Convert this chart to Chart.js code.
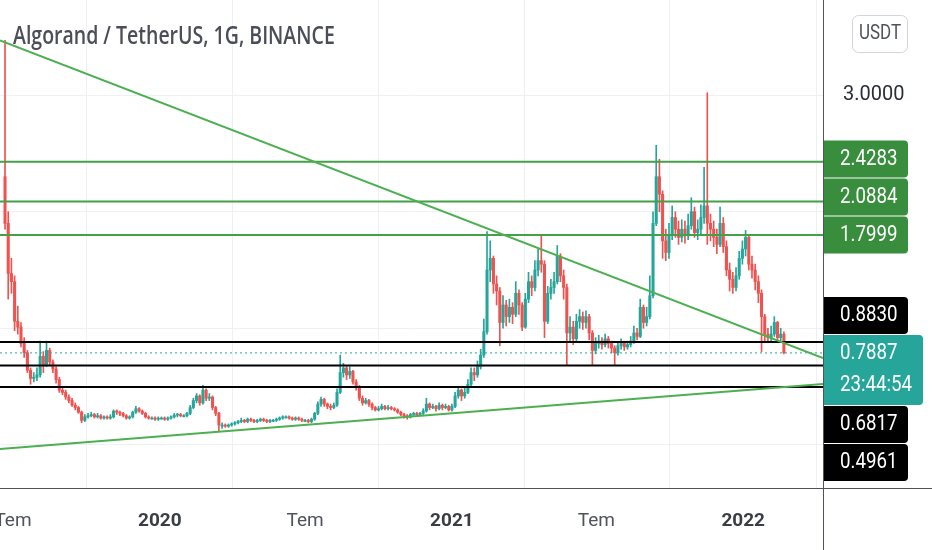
<!DOCTYPE html>
<html><head><meta charset="utf-8">
<script src="https://cdn.jsdelivr.net/npm/chart.js@4.4.1/dist/chart.umd.min.js"></script>
<style>html,body{margin:0;padding:0;background:#fff;overflow:hidden}canvas{display:block}</style>
</head><body>
<canvas id="c" width="932" height="550"></canvas>
<script>
// ---------------- data ----------------
const chartTitle = 'Algorand / TetherUS, 1G, BINANCE';
const currencyLabel = 'USDT';
const originDate = '2019-07-01';
const firstCandleDate = '2019-06-21';
const candleStepDays = 4;
const firstOpen = 2.30;
const closes = [
1.90,1.47,1.40,1.06,1.01,0.87,0.79,0.64,0.57,0.58,0.60,0.76,0.69,0.81,0.71,0.65,0.56,0.47,0.45,0.41,
0.38,0.34,0.32,0.28,0.21,0.24,0.25,0.26,0.24,0.25,0.23,0.24,0.23,0.24,0.29,0.28,0.27,0.25,0.23,0.24,
0.28,0.31,0.29,0.27,0.24,0.23,0.23,0.22,0.23,0.23,0.22,0.23,0.24,0.255,0.26,0.25,0.25,0.27,0.32,0.38,
0.42,0.36,0.47,0.40,0.41,0.32,0.27,0.17,0.17,0.16,0.17,0.18,0.19,0.20,0.21,0.20,0.22,0.21,0.20,0.21,
0.22,0.21,0.20,0.21,0.21,0.22,0.23,0.24,0.24,0.23,0.22,0.23,0.22,0.21,0.21,0.20,0.22,0.27,0.35,0.39,
0.35,0.33,0.32,0.34,0.45,0.62,0.66,0.60,0.63,0.54,0.50,0.40,0.36,0.38,0.35,0.32,0.30,0.31,0.33,0.31,
0.32,0.31,0.30,0.28,0.26,0.25,0.24,0.26,0.27,0.26,0.27,0.29,0.35,0.32,0.33,0.31,0.34,0.32,0.33,0.30,
0.33,0.42,0.47,0.42,0.45,0.52,0.62,0.60,0.67,0.77,0.97,1.50,1.60,1.38,1.32,1.05,1.20,1.10,1.18,1.12,
1.30,1.20,1.01,1.25,1.40,1.35,1.50,1.58,1.55,1.06,1.30,1.35,1.40,1.62,1.45,1.35,0.96,1.01,0.91,1.06,
1.10,1.05,1.10,0.96,0.81,0.87,0.89,0.86,0.91,0.87,0.83,0.79,0.85,0.87,0.84,0.86,0.89,0.96,0.93,1.18,
1.05,1.10,1.28,1.90,2.30,2.15,1.75,1.65,1.80,1.95,1.85,1.78,1.85,1.80,1.88,2.00,1.82,1.85,1.95,2.05,
1.90,1.85,1.78,1.72,1.90,1.70,1.50,1.42,1.35,1.45,1.60,1.68,1.78,1.55,1.50,1.40,1.30,1.10,0.95,0.92,
0.95,1.05,0.92,0.95,0.79];
const highs = [
3.47,2.00,1.60,1.45,1.19,1.05,0.92,0.81,0.66,0.62,0.66,0.89,0.80,0.89,0.83,0.73,0.67,0.58,0.50,0.47,
0.43,0.40,0.36,0.33,0.29,0.26,0.27,0.28,0.27,0.27,0.26,0.25,0.25,0.26,0.30,0.30,0.29,0.28,0.26,0.25,
0.29,0.33,0.32,0.30,0.28,0.25,0.24,0.24,0.24,0.24,0.24,0.24,0.25,0.27,0.27,0.27,0.26,0.28,0.34,0.40,
0.44,0.43,0.51,0.48,0.44,0.42,0.33,0.28,0.19,0.18,0.18,0.19,0.20,0.21,0.23,0.22,0.23,0.23,0.22,0.22,
0.23,0.23,0.22,0.22,0.22,0.23,0.24,0.25,0.25,0.25,0.24,0.24,0.24,0.23,0.22,0.22,0.23,0.28,0.37,0.41,
0.40,0.36,0.35,0.36,0.48,0.77,0.70,0.68,0.67,0.64,0.56,0.51,0.42,0.40,0.39,0.36,0.33,0.33,0.35,0.34,
0.34,0.33,0.32,0.31,0.29,0.27,0.26,0.27,0.28,0.28,0.28,0.31,0.40,0.36,0.35,0.34,0.36,0.35,0.35,0.34,
0.35,0.45,0.50,0.48,0.49,0.56,0.66,0.66,0.72,0.82,1.08,1.83,1.75,1.62,1.45,1.35,1.28,1.24,1.25,1.22,
1.40,1.33,1.22,1.30,1.48,1.45,1.58,1.68,1.80,1.58,1.36,1.42,1.48,1.71,1.64,1.50,1.38,1.10,1.06,1.12,
1.16,1.14,1.15,1.12,0.98,0.92,0.94,0.92,0.95,0.93,0.89,0.85,0.88,0.91,0.89,0.89,0.93,1.02,1.00,1.25,
1.20,1.18,1.45,2.00,2.57,2.45,2.18,1.85,1.90,2.05,2.00,1.92,1.93,1.92,1.98,2.12,2.04,1.93,2.06,2.38,
3.02,1.98,1.92,1.85,2.04,1.95,1.75,1.56,1.48,1.52,1.66,1.75,1.84,1.80,1.62,1.55,1.45,1.33,1.12,1.00,
1.02,1.10,1.06,1.00,0.97];
const lows = [
1.85,1.25,1.30,0.98,0.95,0.84,0.75,0.62,0.52,0.54,0.55,0.58,0.62,0.67,0.68,0.62,0.53,0.45,0.43,0.39,
0.36,0.33,0.30,0.27,0.19,0.20,0.23,0.24,0.23,0.23,0.22,0.22,0.22,0.22,0.23,0.26,0.25,0.24,0.22,0.22,
0.23,0.27,0.28,0.26,0.23,0.22,0.22,0.21,0.21,0.22,0.21,0.21,0.22,0.23,0.24,0.24,0.24,0.24,0.26,0.31,
0.36,0.34,0.35,0.38,0.38,0.30,0.25,0.12,0.14,0.15,0.15,0.16,0.17,0.18,0.19,0.19,0.19,0.20,0.19,0.19,
0.20,0.20,0.19,0.19,0.20,0.20,0.21,0.22,0.23,0.22,0.21,0.21,0.21,0.20,0.20,0.19,0.19,0.21,0.26,0.33,
0.33,0.31,0.30,0.31,0.33,0.44,0.58,0.56,0.57,0.52,0.47,0.38,0.34,0.35,0.33,0.30,0.29,0.29,0.30,0.30,
0.30,0.30,0.29,0.27,0.25,0.23,0.22,0.23,0.25,0.25,0.25,0.26,0.28,0.30,0.31,0.29,0.30,0.30,0.31,0.29,
0.29,0.32,0.40,0.38,0.40,0.44,0.50,0.55,0.58,0.65,0.75,0.95,1.40,1.30,1.20,0.85,1.00,1.02,1.05,1.04,
1.10,1.12,0.98,1.00,1.22,1.28,1.32,1.45,1.48,0.92,1.04,1.25,1.30,1.38,1.40,1.25,0.68,0.88,0.86,0.89,
1.00,0.99,1.00,0.90,0.68,0.78,0.83,0.82,0.84,0.83,0.79,0.68,0.77,0.82,0.81,0.82,0.84,0.87,0.90,0.92,
1.00,1.02,1.08,1.26,1.88,2.00,1.60,1.58,1.60,1.76,1.78,1.72,1.74,1.73,1.76,1.85,1.78,1.76,1.80,1.90,
1.72,1.75,1.70,1.64,1.70,1.65,1.45,1.32,1.30,1.32,1.42,1.55,1.62,1.50,1.43,1.33,1.22,0.80,0.88,0.88,
0.89,0.93,0.88,0.89,0.78];
const tickDates = ['2019-07-01','2020-01-01','2020-07-01','2021-01-01','2021-07-01','2022-01-01'];
const tickLabels = ['Tem','2020','Tem','2021','Tem','2022'];
const priceTicks = [0, 1, 2, 3];
const resistanceLevels = [2.4283, 2.0884, 1.7999];
const supportLevels = [0.8830, 0.6817, 0.4961];
const lastPrice = 0.7887;
const countdown = '23:44:54';
const xDayRange = [-16.3, 1015];        // days from originDate
const yPriceRange = [-0.37, 3.816];
const trendDown = [[-16.3, 3.47], [1015, 0.745]];
const trendUp = [[-16.3, -0.035], [1015, 0.522]];

// ---------------- colours ----------------
const UP = '#26a69a', DOWN = '#ef5350';
const GREEN_LINE = '#43a047', GREEN_BOX = '#388e3c', TREND = '#4caf50';
const GRID = '#eef0f4';
const FONT = 'Roboto, "Open Sans", sans-serif';

// ---------------- build tables ----------------
const origin = Date.parse(originDate);
const dayOf = s => (Date.parse(s) - origin) / 864e5;
const firstDay = dayOf(firstCandleDate);
const candleDays = closes.map((_, i) => firstDay + i * candleStepDays);
const opens = closes.map((c, i) => i === 0 ? firstOpen : closes[i - 1]);
const tickDays = tickDates.map(dayOf);
const isUp = i => closes[i] >= opens[i];

const hLine = (v, color, extra) => Object.assign({
  type: 'line', data: [{x: xDayRange[0], y: v}, {x: xDayRange[1], y: v}],
  borderColor: color, borderWidth: 2, pointRadius: 0, order: 1, parsing: false
}, extra || {});
const segLine = (pts, color) => ({
  type: 'line', data: pts.map(p => ({x: p[0], y: p[1]})),
  borderColor: color, borderWidth: 2, pointRadius: 0, order: 0, parsing: false
});

const datasets = [
  {
    type: 'bar', label: 'wicks', order: 3, grouped: false,
    data: closes.map((c, i) => ({x: candleDays[i], y: [lows[i], highs[i]]})),
    backgroundColor: closes.map((c, i) => isUp(i) ? UP : DOWN),
    barThickness: 1, borderWidth: 0
  },
  {
    type: 'bar', label: 'bodies', order: 2, grouped: false,
    data: closes.map((c, i) => ({x: candleDays[i], y: [opens[i], c]})),
    backgroundColor: closes.map((c, i) => isUp(i) ? UP : DOWN),
    barThickness: 2.4, borderWidth: 0, minBarLength: 1
  },
  ...resistanceLevels.map(v => hLine(v, GREEN_LINE)),
  ...supportLevels.map(v => hLine(v, '#000000')),
  hLine(lastPrice, UP, {borderWidth: 1, borderDash: [2, 3]}),
  segLine(trendDown, TREND),
  segLine(trendUp, TREND)
];

function sText(ctx, txt, x, y, font, color, sx, align) {
  ctx.save();
  ctx.font = font; ctx.fillStyle = color; ctx.textBaseline = 'middle'; ctx.textAlign = align || 'left';
  ctx.translate(x, y); ctx.scale(sx, 1); ctx.fillText(txt, 0, 0);
  ctx.restore();
}
function rBox(ctx, x, y, w, h, r, fill) {
  ctx.save(); ctx.fillStyle = fill; ctx.beginPath();
  ctx.moveTo(x, y); ctx.lineTo(x + w - r, y); ctx.arcTo(x + w, y, x + w, y + r, r);
  ctx.lineTo(x + w, y + h - r); ctx.arcTo(x + w, y + h, x + w - r, y + h, r);
  ctx.lineTo(x, y + h); ctx.closePath(); ctx.fill(); ctx.restore();
}

// price-label boxes on the right axis, stacked so they never overlap
const BH = 37, GAP = 1;
function layoutBoxes(y) {
  const pc = y.getPixelForValue(lastPrice);
  const cur = {top: pc - 18, bottom: pc + 52, pc};
  const all = resistanceLevels.map(v => ({v, c: GREEN_BOX})).concat(supportLevels.map(v => ({v, c: '#000'})));
  const above = all.filter(o => o.v > lastPrice).sort((a, b) => a.v - b.v);
  const below = all.filter(o => o.v < lastPrice).sort((a, b) => b.v - a.v);
  let limit = cur.top - GAP;
  above.forEach(o => { o.top = Math.min(y.getPixelForValue(o.v) - BH / 2, limit - BH); limit = o.top - GAP; });
  limit = cur.bottom + GAP;
  below.forEach(o => { o.top = Math.max(y.getPixelForValue(o.v) - BH / 2, limit); limit = o.top + BH + GAP; });
  return {cur, boxes: above.concat(below)};
}
function tickHidden(scale, value) {
  const p = scale.getPixelForValue(value);
  const {cur, boxes} = layoutBoxes(scale);
  const spans = boxes.map(b => [b.top, b.top + BH]).concat([[cur.top, cur.bottom]]);
  return spans.some(s => p + 10 > s[0] - GAP - 1 && p - 10 < s[1] + GAP + 1);
}

const overlayPlugin = {
  id: 'overlay',
  afterDraw(chart) {
    const {ctx, chartArea, scales: {y}} = chart;
    const W = chart.width, Hc = chart.height, R = chartArea.right;
    ctx.save();
    ctx.strokeStyle = '#50535e'; ctx.lineWidth = 1;
    ctx.beginPath();
    ctx.moveTo(Math.round(R) + 0.5, 0); ctx.lineTo(Math.round(R) + 0.5, Hc);
    ctx.moveTo(0, Math.round(chartArea.bottom) + 0.5); ctx.lineTo(W, Math.round(chartArea.bottom) + 0.5);
    ctx.stroke();

    sText(ctx, chartTitle, 13, 37, '600 25px "Open Sans", sans-serif', '#4b4e58', 0.78);

    ctx.strokeStyle = '#d1d4dc'; ctx.lineWidth = 1; ctx.fillStyle = '#fff';
    ctx.beginPath(); ctx.roundRect(852.5, 15.5, 55, 37, 6); ctx.fill(); ctx.stroke();
    sText(ctx, currencyLabel, 880, 34, '20px ' + FONT, '#50535e', 0.85, 'center');

    const BX = R + 1, BW = 908 - BX, TW = 923 - BX;
    const labelFont = '22px ' + FONT;
    const {cur, boxes} = layoutBoxes(y);
    boxes.forEach(o => {
      rBox(ctx, BX, o.top, BW, BH, 4, o.c);
      sText(ctx, o.v.toFixed(4), 840, o.top + BH / 2, labelFont, '#ffffff', 0.85);
    });
    rBox(ctx, BX, cur.top, TW, cur.bottom - cur.top, 4, UP);
    sText(ctx, lastPrice.toFixed(4), 840, cur.pc + 1, labelFont, '#ffffff', 0.85);
    sText(ctx, countdown, 840, cur.pc + 33, labelFont, '#ffffff', 0.85);
    ctx.restore();
  }
};

new Chart(document.getElementById('c'), {
  data: {datasets},
  options: {
    responsive: false, animation: false, devicePixelRatio: 1,
    layout: {padding: 0},
    plugins: {legend: {display: false}, tooltip: {enabled: false}, title: {display: false}},
    scales: {
      x: {
        type: 'linear', min: xDayRange[0], max: xDayRange[1], offset: false,
        grid: {color: GRID, drawTicks: false}, border: {display: false},
        afterBuildTicks: s => { s.ticks = tickDays.map(v => ({value: v})); },
        ticks: {
          padding: 22, maxRotation: 0, autoSkip: false,
          color: ctx => /^\d/.test(tickLabels[ctx.index] || '') ? '#3a3d46' : '#50535e',
          font: ctx => ({family: FONT, size: 19, weight: /^\d/.test(tickLabels[ctx.index] || '') ? 'bold' : 'normal'}),
          callback: (v, i) => tickLabels[i]
        },
        afterFit: s => { s.height = 62; s.paddingLeft = 0; s.paddingRight = 0; }
      },
      y: {
        type: 'linear', position: 'right', min: yPriceRange[0], max: yPriceRange[1],
        grid: {color: GRID, drawTicks: false}, border: {display: false},
        afterBuildTicks: s => { s.ticks = priceTicks.map(v => ({value: v})); },
        ticks: {
          padding: 20, font: {family: FONT, size: 20}, callback: v => Number(v).toFixed(4),
          color: ctx => (ctx.tick && tickHidden(ctx.chart.scales.y, ctx.tick.value)) ? 'rgba(0,0,0,0)' : '#2a2e39'
        },
        afterFit: s => { s.width = 109; s.paddingTop = 0; s.paddingBottom = 0; }
      }
    }
  },
  plugins: [overlayPlugin]
});
</script>
</body></html>
